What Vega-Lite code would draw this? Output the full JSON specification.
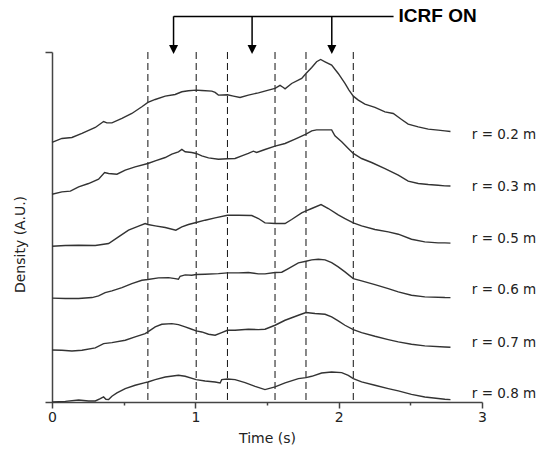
{
  "$schema": "https://vega.github.io/schema/vega-lite/v6.json",
  "width": 430,
  "height": 350,
  "autosize": "none",
  "padding": {"left": 52, "top": 52, "right": 59, "bottom": 48},
  "background": "white",
  "config": {"view": {"stroke": null}, "font": "DejaVu Sans"},
  "datasets": {
    "curves": [
      {"r":"0.2","t":0,"v":5.0},{"r":"0.2","t":0.069,"v":5.075},{"r":"0.2","t":0.139,"v":5.094},{"r":"0.2","t":0.209,"v":5.171},{"r":"0.2","t":0.302,"v":5.287},{"r":"0.2","t":0.36,"v":5.402},{"r":"0.2","t":0.383,"v":5.376},{"r":"0.2","t":0.418,"v":5.376},{"r":"0.2","t":0.488,"v":5.46},{"r":"0.2","t":0.557,"v":5.556},{"r":"0.2","t":0.627,"v":5.685},{"r":"0.2","t":0.669,"v":5.768},{"r":"0.2","t":0.72,"v":5.826},{"r":"0.2","t":0.79,"v":5.89},{"r":"0.2","t":0.859,"v":5.922},{"r":"0.2","t":0.906,"v":5.974},{"r":"0.2","t":0.952,"v":5.993},{"r":"0.2","t":1.006,"v":6.006},{"r":"0.2","t":1.045,"v":5.999},{"r":"0.2","t":1.115,"v":5.986},{"r":"0.2","t":1.138,"v":5.961},{"r":"0.2","t":1.161,"v":5.909},{"r":"0.2","t":1.224,"v":5.916},{"r":"0.2","t":1.266,"v":5.89},{"r":"0.2","t":1.312,"v":5.864},{"r":"0.2","t":1.37,"v":5.909},{"r":"0.2","t":1.44,"v":5.954},{"r":"0.2","t":1.51,"v":6.006},{"r":"0.2","t":1.556,"v":6.038},{"r":"0.2","t":1.591,"v":6.096},{"r":"0.2","t":1.614,"v":6.057},{"r":"0.2","t":1.626,"v":6.031},{"r":"0.2","t":1.672,"v":6.134},{"r":"0.2","t":1.742,"v":6.231},{"r":"0.2","t":1.772,"v":6.327},{"r":"0.2","t":1.812,"v":6.443},{"r":"0.2","t":1.846,"v":6.552},{"r":"0.2","t":1.874,"v":6.597},{"r":"0.2","t":1.905,"v":6.552},{"r":"0.2","t":1.951,"v":6.487},{"r":"0.2","t":1.997,"v":6.327},{"r":"0.2","t":2.044,"v":6.134},{"r":"0.2","t":2.072,"v":6.006},{"r":"0.2","t":2.102,"v":5.89},{"r":"0.2","t":2.137,"v":5.813},{"r":"0.2","t":2.183,"v":5.736},{"r":"0.2","t":2.253,"v":5.672},{"r":"0.2","t":2.323,"v":5.588},{"r":"0.2","t":2.381,"v":5.556},{"r":"0.2","t":2.439,"v":5.441},{"r":"0.2","t":2.485,"v":5.351},{"r":"0.2","t":2.555,"v":5.299},{"r":"0.2","t":2.625,"v":5.254},{"r":"0.2","t":2.694,"v":5.235},{"r":"0.2","t":2.741,"v":5.222},{"r":"0.2","t":2.78,"v":5.21},

      {"r":"0.3","t":0,"v":4.0},{"r":"0.3","t":0.069,"v":4.047},{"r":"0.3","t":0.128,"v":4.06},{"r":"0.3","t":0.186,"v":4.143},{"r":"0.3","t":0.255,"v":4.207},{"r":"0.3","t":0.325,"v":4.291},{"r":"0.3","t":0.367,"v":4.419},{"r":"0.3","t":0.395,"v":4.4},{"r":"0.3","t":0.453,"v":4.387},{"r":"0.3","t":0.511,"v":4.464},{"r":"0.3","t":0.58,"v":4.529},{"r":"0.3","t":0.669,"v":4.593},{"r":"0.3","t":0.72,"v":4.644},{"r":"0.3","t":0.79,"v":4.708},{"r":"0.3","t":0.836,"v":4.773},{"r":"0.3","t":0.882,"v":4.818},{"r":"0.3","t":0.906,"v":4.863},{"r":"0.3","t":0.929,"v":4.818},{"r":"0.3","t":0.975,"v":4.805},{"r":"0.3","t":1.006,"v":4.786},{"r":"0.3","t":1.045,"v":4.74},{"r":"0.3","t":1.092,"v":4.702},{"r":"0.3","t":1.161,"v":4.676},{"r":"0.3","t":1.224,"v":4.683},{"r":"0.3","t":1.277,"v":4.689},{"r":"0.3","t":1.324,"v":4.74},{"r":"0.3","t":1.37,"v":4.786},{"r":"0.3","t":1.405,"v":4.83},{"r":"0.3","t":1.428,"v":4.805},{"r":"0.3","t":1.486,"v":4.863},{"r":"0.3","t":1.556,"v":4.927},{"r":"0.3","t":1.626,"v":4.978},{"r":"0.3","t":1.696,"v":5.062},{"r":"0.3","t":1.772,"v":5.158},{"r":"0.3","t":1.812,"v":5.222},{"r":"0.3","t":1.846,"v":5.241},{"r":"0.3","t":1.905,"v":5.241},{"r":"0.3","t":1.951,"v":5.241},{"r":"0.3","t":1.974,"v":5.126},{"r":"0.3","t":2.021,"v":5.01},{"r":"0.3","t":2.067,"v":4.882},{"r":"0.3","t":2.102,"v":4.786},{"r":"0.3","t":2.16,"v":4.689},{"r":"0.3","t":2.23,"v":4.612},{"r":"0.3","t":2.323,"v":4.496},{"r":"0.3","t":2.416,"v":4.368},{"r":"0.3","t":2.485,"v":4.252},{"r":"0.3","t":2.555,"v":4.207},{"r":"0.3","t":2.625,"v":4.188},{"r":"0.3","t":2.694,"v":4.175},{"r":"0.3","t":2.741,"v":4.162},{"r":"0.3","t":2.78,"v":4.16},

      {"r":"0.5","t":0,"v":3.0},{"r":"0.5","t":0.093,"v":3.013},{"r":"0.5","t":0.186,"v":3.019},{"r":"0.5","t":0.302,"v":3.013},{"r":"0.5","t":0.395,"v":3.051},{"r":"0.5","t":0.464,"v":3.18},{"r":"0.5","t":0.534,"v":3.308},{"r":"0.5","t":0.604,"v":3.385},{"r":"0.5","t":0.65,"v":3.437},{"r":"0.5","t":0.669,"v":3.418},{"r":"0.5","t":0.72,"v":3.392},{"r":"0.5","t":0.79,"v":3.36},{"r":"0.5","t":0.864,"v":3.308},{"r":"0.5","t":0.906,"v":3.372},{"r":"0.5","t":0.952,"v":3.418},{"r":"0.5","t":1.006,"v":3.456},{"r":"0.5","t":1.068,"v":3.501},{"r":"0.5","t":1.138,"v":3.546},{"r":"0.5","t":1.224,"v":3.597},{"r":"0.5","t":1.301,"v":3.597},{"r":"0.5","t":1.394,"v":3.591},{"r":"0.5","t":1.44,"v":3.533},{"r":"0.5","t":1.486,"v":3.449},{"r":"0.5","t":1.556,"v":3.437},{"r":"0.5","t":1.626,"v":3.437},{"r":"0.5","t":1.672,"v":3.514},{"r":"0.5","t":1.742,"v":3.642},{"r":"0.5","t":1.772,"v":3.681},{"r":"0.5","t":1.812,"v":3.726},{"r":"0.5","t":1.877,"v":3.803},{"r":"0.5","t":1.928,"v":3.726},{"r":"0.5","t":1.997,"v":3.604},{"r":"0.5","t":2.044,"v":3.533},{"r":"0.5","t":2.102,"v":3.449},{"r":"0.5","t":2.16,"v":3.392},{"r":"0.5","t":2.253,"v":3.321},{"r":"0.5","t":2.346,"v":3.276},{"r":"0.5","t":2.416,"v":3.231},{"r":"0.5","t":2.508,"v":3.135},{"r":"0.5","t":2.601,"v":3.083},{"r":"0.5","t":2.694,"v":3.064},{"r":"0.5","t":2.741,"v":3.064},{"r":"0.5","t":2.78,"v":3.06},

      {"r":"0.6","t":0,"v":2.0},{"r":"0.6","t":0.093,"v":1.992},{"r":"0.6","t":0.186,"v":1.992},{"r":"0.6","t":0.279,"v":2.011},{"r":"0.6","t":0.325,"v":2.043},{"r":"0.6","t":0.371,"v":2.107},{"r":"0.6","t":0.418,"v":2.139},{"r":"0.6","t":0.488,"v":2.204},{"r":"0.6","t":0.557,"v":2.281},{"r":"0.6","t":0.627,"v":2.345},{"r":"0.6","t":0.669,"v":2.358},{"r":"0.6","t":0.743,"v":2.39},{"r":"0.6","t":0.813,"v":2.396},{"r":"0.6","t":0.859,"v":2.377},{"r":"0.6","t":0.882,"v":2.364},{"r":"0.6","t":0.894,"v":2.422},{"r":"0.6","t":0.929,"v":2.448},{"r":"0.6","t":0.975,"v":2.441},{"r":"0.6","t":1.006,"v":2.454},{"r":"0.6","t":1.068,"v":2.461},{"r":"0.6","t":1.161,"v":2.473},{"r":"0.6","t":1.224,"v":2.486},{"r":"0.6","t":1.301,"v":2.486},{"r":"0.6","t":1.37,"v":2.493},{"r":"0.6","t":1.44,"v":2.467},{"r":"0.6","t":1.486,"v":2.467},{"r":"0.6","t":1.556,"v":2.493},{"r":"0.6","t":1.603,"v":2.499},{"r":"0.6","t":1.649,"v":2.57},{"r":"0.6","t":1.719,"v":2.679},{"r":"0.6","t":1.772,"v":2.711},{"r":"0.6","t":1.812,"v":2.737},{"r":"0.6","t":1.858,"v":2.75},{"r":"0.6","t":1.905,"v":2.737},{"r":"0.6","t":1.951,"v":2.685},{"r":"0.6","t":1.997,"v":2.602},{"r":"0.6","t":2.044,"v":2.505},{"r":"0.6","t":2.102,"v":2.377},{"r":"0.6","t":2.16,"v":2.332},{"r":"0.6","t":2.253,"v":2.261},{"r":"0.6","t":2.346,"v":2.184},{"r":"0.6","t":2.416,"v":2.12},{"r":"0.6","t":2.508,"v":2.056},{"r":"0.6","t":2.601,"v":2.024},{"r":"0.6","t":2.741,"v":2.011},{"r":"0.6","t":2.78,"v":2.01},

      {"r":"0.7","t":0,"v":1.0},{"r":"0.7","t":0.069,"v":0.996},{"r":"0.7","t":0.139,"v":0.983},{"r":"0.7","t":0.209,"v":0.996},{"r":"0.7","t":0.302,"v":1.041},{"r":"0.7","t":0.36,"v":1.125},{"r":"0.7","t":0.418,"v":1.144},{"r":"0.7","t":0.511,"v":1.189},{"r":"0.7","t":0.58,"v":1.253},{"r":"0.7","t":0.65,"v":1.317},{"r":"0.7","t":0.669,"v":1.349},{"r":"0.7","t":0.72,"v":1.446},{"r":"0.7","t":0.766,"v":1.497},{"r":"0.7","t":0.836,"v":1.51},{"r":"0.7","t":0.882,"v":1.491},{"r":"0.7","t":0.929,"v":1.446},{"r":"0.7","t":0.975,"v":1.401},{"r":"0.7","t":1.006,"v":1.369},{"r":"0.7","t":1.045,"v":1.349},{"r":"0.7","t":1.092,"v":1.304},{"r":"0.7","t":1.138,"v":1.285},{"r":"0.7","t":1.184,"v":1.337},{"r":"0.7","t":1.224,"v":1.382},{"r":"0.7","t":1.277,"v":1.382},{"r":"0.7","t":1.37,"v":1.401},{"r":"0.7","t":1.44,"v":1.394},{"r":"0.7","t":1.486,"v":1.401},{"r":"0.7","t":1.556,"v":1.478},{"r":"0.7","t":1.626,"v":1.574},{"r":"0.7","t":1.719,"v":1.671},{"r":"0.7","t":1.772,"v":1.722},{"r":"0.7","t":1.835,"v":1.703},{"r":"0.7","t":1.905,"v":1.69},{"r":"0.7","t":1.951,"v":1.638},{"r":"0.7","t":1.997,"v":1.561},{"r":"0.7","t":2.044,"v":1.478},{"r":"0.7","t":2.102,"v":1.394},{"r":"0.7","t":2.16,"v":1.337},{"r":"0.7","t":2.253,"v":1.266},{"r":"0.7","t":2.346,"v":1.202},{"r":"0.7","t":2.416,"v":1.157},{"r":"0.7","t":2.508,"v":1.112},{"r":"0.7","t":2.601,"v":1.08},{"r":"0.7","t":2.741,"v":1.06},{"r":"0.7","t":2.78,"v":1.055},

      {"r":"0.8","t":0,"v":0.0},{"r":"0.8","t":0.093,"v":0.013},{"r":"0.8","t":0.186,"v":0.039},{"r":"0.8","t":0.255,"v":0.02},{"r":"0.8","t":0.302,"v":0.02},{"r":"0.8","t":0.337,"v":0.065},{"r":"0.8","t":0.36,"v":0.097},{"r":"0.8","t":0.376,"v":0.052},{"r":"0.8","t":0.395,"v":0.046},{"r":"0.8","t":0.418,"v":0.11},{"r":"0.8","t":0.453,"v":0.174},{"r":"0.8","t":0.511,"v":0.258},{"r":"0.8","t":0.58,"v":0.322},{"r":"0.8","t":0.65,"v":0.373},{"r":"0.8","t":0.669,"v":0.386},{"r":"0.8","t":0.72,"v":0.431},{"r":"0.8","t":0.79,"v":0.482},{"r":"0.8","t":0.882,"v":0.514},{"r":"0.8","t":0.929,"v":0.495},{"r":"0.8","t":1.006,"v":0.431},{"r":"0.8","t":1.068,"v":0.405},{"r":"0.8","t":1.138,"v":0.386},{"r":"0.8","t":1.173,"v":0.367},{"r":"0.8","t":1.184,"v":0.431},{"r":"0.8","t":1.224,"v":0.444},{"r":"0.8","t":1.277,"v":0.431},{"r":"0.8","t":1.347,"v":0.373},{"r":"0.8","t":1.417,"v":0.302},{"r":"0.8","t":1.486,"v":0.238},{"r":"0.8","t":1.556,"v":0.29},{"r":"0.8","t":1.626,"v":0.367},{"r":"0.8","t":1.719,"v":0.45},{"r":"0.8","t":1.772,"v":0.47},{"r":"0.8","t":1.812,"v":0.495},{"r":"0.8","t":1.881,"v":0.559},{"r":"0.8","t":1.951,"v":0.579},{"r":"0.8","t":2.021,"v":0.566},{"r":"0.8","t":2.067,"v":0.514},{"r":"0.8","t":2.102,"v":0.45},{"r":"0.8","t":2.16,"v":0.386},{"r":"0.8","t":2.253,"v":0.322},{"r":"0.8","t":2.346,"v":0.258},{"r":"0.8","t":2.416,"v":0.213},{"r":"0.8","t":2.508,"v":0.148},{"r":"0.8","t":2.601,"v":0.097},{"r":"0.8","t":2.741,"v":0.052},{"r":"0.8","t":2.78,"v":0.045}
    ],
    "dashes": [{"t":0.669},{"t":1.006},{"t":1.224},{"t":1.556},{"t":1.772},{"t":2.102}],
    "labels": [
      {"label":"r = 0.2 m","v":5.15},
      {"label":"r = 0.3 m","v":4.14},
      {"label":"r = 0.5 m","v":3.135},
      {"label":"r = 0.6 m","v":2.152},
      {"label":"r = 0.7 m","v":1.145},
      {"label":"r = 0.8 m","v":0.162}
    ],
    "arrows": [{"t":0.848},{"t":1.396},{"t":1.952}],
    "bracket": [{"t":0.848,"t2":2.383}],
    "note": [{"label":"ICRF ON"}]
  },
  "layer": [
    {
      "data": {"name": "dashes"},
      "mark": {"type": "rule", "strokeDash": [7, 4], "color": "#111", "strokeWidth": 1},
      "encoding": {
        "x": {"field": "t", "type": "quantitative", "title": "Time (s)"}
      }
    },
    {
      "data": {"name": "curves"},
      "mark": {"type": "line", "color": "#333", "strokeWidth": 1.4},
      "encoding": {
        "x": {
          "field": "t", "type": "quantitative", "title": "Time (s)",
          "scale": {"domain": [0, 3], "nice": false, "zero": false},
          "axis": {
            "values": [0, 0.5, 1, 1.5, 2, 2.5, 3],
            "labelExpr": "datum.value % 1 === 0 ? format(datum.value, 'd') : ''",
            "labelOverlap": false,
            "labelFlush": false,
            "tickSize": {"condition": {"test": "datum.value % 1 !== 0", "value": 3}, "value": 6},
            "grid": false,
            "domainColor": "#444", "domainWidth": 1.5,
            "tickColor": "#444", "tickWidth": 1.5,
            "labelFont": "DejaVu Sans", "labelFontSize": 14, "labelColor": "#222", "labelPadding": 2,
            "titleFont": "DejaVu Sans", "titleFontSize": 14, "titleFontWeight": "normal", "titleColor": "#222",
            "titleY": 36, "titleBaseline": "middle"
          }
        },
        "y": {
          "field": "v", "type": "quantitative", "title": "Density (A.U.)",
          "scale": {"domain": [0, 6.74], "nice": false, "zero": false},
          "axis": {
            "values": [0, 6.74],
            "labels": false,
            "tickSize": 7,
            "grid": false,
            "domainColor": "#444", "domainWidth": 1.5,
            "tickColor": "#444", "tickWidth": 1.5,
            "titleFont": "DejaVu Sans", "titleFontSize": 14, "titleFontWeight": "normal", "titleColor": "#222",
            "titleX": -32, "titleY": 192, "titleAngle": -90, "titleAlign": "center", "titleBaseline": "middle"
          }
        },
        "detail": {"field": "r", "type": "nominal"}
      }
    },
    {
      "data": {"name": "labels"},
      "mark": {"type": "text", "align": "left", "baseline": "middle", "font": "DejaVu Sans", "fontSize": 13.5, "color": "#222"},
      "encoding": {
        "x": {"datum": 2.929, "type": "quantitative", "title": "Time (s)"},
        "y": {"field": "v", "type": "quantitative", "title": "Density (A.U.)"},
        "text": {"field": "label"}
      }
    },
    {
      "data": {"name": "arrows"},
      "mark": {"type": "rule", "color": "#000", "strokeWidth": 1.5},
      "encoding": {
        "x": {"field": "t", "type": "quantitative", "title": "Time (s)"},
        "y": {"datum": 7.426, "type": "quantitative", "title": "Density (A.U.)"},
        "y2": {"datum": 6.86}
      }
    },
    {
      "data": {"name": "arrows"},
      "mark": {"type": "point", "shape": "M-1,-1L1,-1L0,1Z", "size": 81, "filled": true, "color": "#000", "opacity": 1},
      "encoding": {
        "x": {"field": "t", "type": "quantitative", "title": "Time (s)"},
        "y": {"datum": 6.789, "type": "quantitative", "title": "Density (A.U.)"}
      }
    },
    {
      "data": {"name": "bracket"},
      "mark": {"type": "rule", "color": "#000", "strokeWidth": 1.5},
      "encoding": {
        "x": {"field": "t", "type": "quantitative", "title": "Time (s)"},
        "x2": {"field": "t2"},
        "y": {"datum": 7.426, "type": "quantitative", "title": "Density (A.U.)"}
      }
    },
    {
      "data": {"name": "note"},
      "mark": {"type": "text", "align": "left", "baseline": "middle", "font": "Liberation Sans", "fontWeight": "bold", "fontSize": 19, "color": "#000"},
      "encoding": {
        "x": {"datum": 2.418, "type": "quantitative", "title": "Time (s)"},
        "y": {"datum": 7.438, "type": "quantitative", "title": "Density (A.U.)"},
        "text": {"field": "label"}
      }
    }
  ]
}
